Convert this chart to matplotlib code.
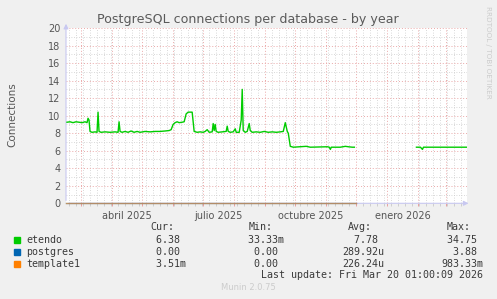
import matplotlib
matplotlib.use("Agg")
import matplotlib.pyplot as plt
import matplotlib.dates as mdates
import numpy as np

# --- data ---
start = np.datetime64("2025-02-14")
end = np.datetime64("2026-03-21")

# (days since start, connections) for "etendo"
etendo = [
    (1, 9.25), (4, 9.3), (7, 9.2), (10, 9.3), (13, 9.25), (16, 9.2), (19, 9.3), (21, 9.2),
    (22, 9.7), (23, 9.5), (24, 8.2), (26, 8.1), (29, 8.15), (31, 8.1), (32, 10.4), (33, 8.2),
    (35, 8.1), (39, 8.15), (44, 8.1), (49, 8.15), (52, 8.1), (53, 9.3), (54, 8.2), (56, 8.1),
    (59, 8.2), (62, 8.1), (65, 8.25), (68, 8.1), (71, 8.2), (74, 8.1), (79, 8.2), (84, 8.15),
    (89, 8.2), (94, 8.2), (99, 8.25), (103, 8.3), (105, 8.4), (107, 9.0), (109, 9.2),
    (111, 9.3), (113, 9.2), (116, 9.25), (118, 9.3), (120, 10.2), (122, 10.4), (126, 10.4),
    (128, 8.2), (131, 8.1), (134, 8.15), (137, 8.1), (139, 8.2), (141, 8.4), (143, 8.1),
    (146, 8.15), (147, 9.1), (148, 8.3), (149, 9.0), (150, 8.2), (152, 8.1), (156, 8.15),
    (160, 8.2), (161, 8.8), (162, 8.2), (164, 8.1), (167, 8.15), (169, 8.5), (170, 8.1),
    (173, 8.1), (175, 9.5), (176, 13.0), (177, 8.3), (179, 8.1), (181, 8.2), (183, 9.1),
    (184, 8.3), (186, 8.1), (190, 8.15), (194, 8.1), (198, 8.2), (202, 8.1), (206, 8.15),
    (210, 8.1), (214, 8.15), (217, 8.2), (219, 9.2), (221, 8.2), (222, 8.0), (224, 6.5),
    (227, 6.4), (240, 6.5), (244, 6.4), (261, 6.45), (263, 6.4), (264, 6.15), (265, 6.4),
    (274, 6.4), (279, 6.5), (282, 6.45), (286, 6.4), (288, 6.4), (289, np.nan),
    (350, 6.4), (354, 6.4), (356, 6.15), (357, 6.4), (364, 6.4), (380, 6.4), (400, 6.4),
]
zero_days = [0, 290]
postgres_vals = [0.0, 0.0]
template1_vals = [0.0, 0.0]

names = ["etendo", "postgres", "template1"]
colors = ["#00CC00", "#0066B3", "#FF8000"]
cur = ["  6.38 ", "  0.00 ", "  3.51m"]
mins = [" 33.33m", "  0.00 ", "  0.00 "]
avgs = ["  7.78 ", "289.92u", "226.24u"]
maxs = [" 34.75 ", "  3.88 ", "983.33m"]

W, H = 497, 299
fig = plt.figure(figsize=(W / 100, H / 100), dpi=100)
fig.patch.set_facecolor("#F0F0F0")
ax = fig.add_axes([66 / W, (H - 203.3) / H, 400.5 / W, 175.3 / H])
ax.set_facecolor("white")

edays = np.array([d for d, v in etendo])
evals = np.array([v for d, v in etendo])
ex = start + edays.astype("timedelta64[D]")
zx = start + np.array(zero_days).astype("timedelta64[D]")

ax.plot(ex, evals, color=colors[0], lw=1.0, zorder=5)
ax.plot(zx, postgres_vals, color=colors[1], lw=1.0, alpha=0.5, zorder=4, clip_on=False)
ax.plot(zx, template1_vals, color=colors[2], lw=1.0, alpha=0.5, zorder=4, clip_on=False)

ax.set_xlim(start, end)
ax.set_ylim(0, 20)

ax.xaxis.set_major_locator(mdates.MonthLocator())
ax.xaxis.set_minor_locator(mdates.WeekdayLocator(byweekday=mdates.MO))
ax.xaxis.set_major_formatter(plt.NullFormatter())
ax.yaxis.set_major_locator(plt.MultipleLocator(2))
ax.yaxis.set_minor_locator(plt.MultipleLocator(1))

ax.grid(which="minor", color="#CCCCCC", ls=(0, (1, 2)), lw=0.6)
ax.grid(which="major", color="#EAA8A8", ls=(0, (1, 2)), lw=0.7)
ax.set_axisbelow(True)

ax.tick_params(axis="x", which="major", length=2.5, color="#E8A0A0", width=0.7)
ax.tick_params(axis="x", which="minor", length=2, color="#C8C8C8", width=0.6)
ax.tick_params(axis="y", which="both", length=0, labelsize=7, labelcolor="#555555", pad=4)

for s in ax.spines.values():
    s.set_visible(False)

# axis lines with arrows (rrdtool style)
axc = "#C8C8F0"
ax.annotate("", xy=(0, 1.04), xytext=(0, 0), xycoords="axes fraction",
            arrowprops=dict(arrowstyle="-|>", color=axc, lw=0.8, mutation_scale=7), zorder=1)
ax.annotate("", xy=(1.012, 0), xytext=(0, 0), xycoords="axes fraction",
            arrowprops=dict(arrowstyle="-|>", color=axc, lw=0.8, mutation_scale=7), zorder=1)

# quarter labels, centred in their month
for d, lab in [("2025-04-16", "abril 2025"), ("2025-07-16", "julio 2025"),
               ("2025-10-16", "octubre 2025"), ("2026-01-16", "enero 2026")]:
    ax.text(mdates.date2num(np.datetime64(d)), -0.045, lab, transform=ax.get_xaxis_transform(),
            ha="center", va="top", fontsize=7, color="#555555")

fig.text(248 / W, 1 - 19 / H, "PostgreSQL connections per database - by year",
         ha="center", va="center", fontsize=9.1, color="#5a5a5a")
fig.text(12 / W, 1 - 115 / H, "Connections", rotation=90, ha="center", va="center",
         fontsize=7.5, color="#555555")
fig.text(488 / W, 1 - 52 / H, "RRDTOOL / TOBI OETIKER", rotation=270, ha="center",
         va="center", fontsize=5.2, color="#CCCCCC")

mono = dict(family="DejaVu Sans Mono", fontsize=7.2, color="#3a3a3a", va="center")
hy = 1 - 227 / H
for x, h in [(150, "Cur:"), (249, "Min:"), (348, "Avg:"), (447, "Max:")]:
    fig.text(x / W, hy, h, **mono)
for i, name in enumerate(names):
    y = 1 - (240 + 12 * i) / H
    fig.patches.append(plt.Rectangle((14 / W, y - 3 / H), 6 / W, 6 / H,
                                     transform=fig.transFigure, color=colors[i]))
    fig.text(26 / W, y, name, **mono)
    fig.text(144 / W, y, cur[i], **mono)
    fig.text(242.5 / W, y, mins[i], **mono)
    fig.text(342 / W, y, avgs[i], **mono)
    fig.text(441 / W, y, maxs[i], **mono)
fig.text(483 / W, 1 - 275 / H, "Last update: Fri Mar 20 01:00:09 2026", ha="right", **mono)
fig.text(248 / W, 1 - 288 / H, "Munin 2.0.75", ha="center", va="center", fontsize=6,
         color="#CCCCCC")

fig.savefig("out.png", dpi=100, facecolor=fig.get_facecolor())
